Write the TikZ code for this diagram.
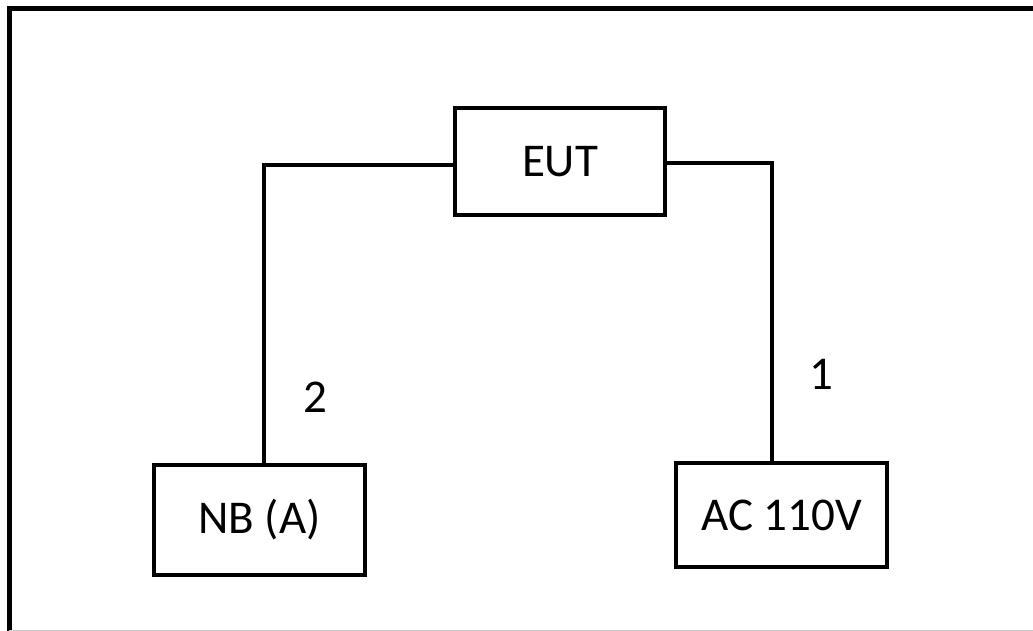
\documentclass[tikz,border=0pt]{standalone}
\usepackage{fontspec}
\setmainfont{Carlito}
\begin{document}
\begin{tikzpicture}[x=1pt,y=-1pt,
  box/.style={draw=black,line width=4.5pt,minimum width=#1,inner sep=0pt,font=\fontsize{47}{56}\selectfont,line join=miter},
  wire/.style={draw=black,line width=4.5pt},
  lbl/.style={font=\fontsize{47}{56}\selectfont,inner sep=0pt}]
\useasboundingbox (0,0) rectangle (1033,631);
\fill[white] (0,0) rectangle (1033,631);
% frame
\draw[line width=5pt,black] (9,631) -- (9,9) -- (1033,9);
\draw[line width=1.2pt,black!20] (9,630.4) -- (1033,630.4);
% boxes
\node[box=210pt,minimum height=107pt] (EUT) at (560,161.5) {EUT};
\node[box=211pt,minimum height=110pt] (NB) at (259.5,520) {NB (A)};
\node[box=211pt,minimum height=104pt] (AC) at (781.5,515) {AC 110V};
% wires
\coordinate (lk) at (264,165);
\coordinate (rk) at (772,163);
\draw[wire] (EUT.west |- lk) -- (lk) -- (lk |- NB.north);
\draw[wire] (EUT.east |- rk) -- (rk) -- (rk |- AC.north);
% labels
\node[lbl] (l2) at (315,397) {2};
\node[lbl] (l1) at (821,374) {1};
\end{tikzpicture}
\end{document}
